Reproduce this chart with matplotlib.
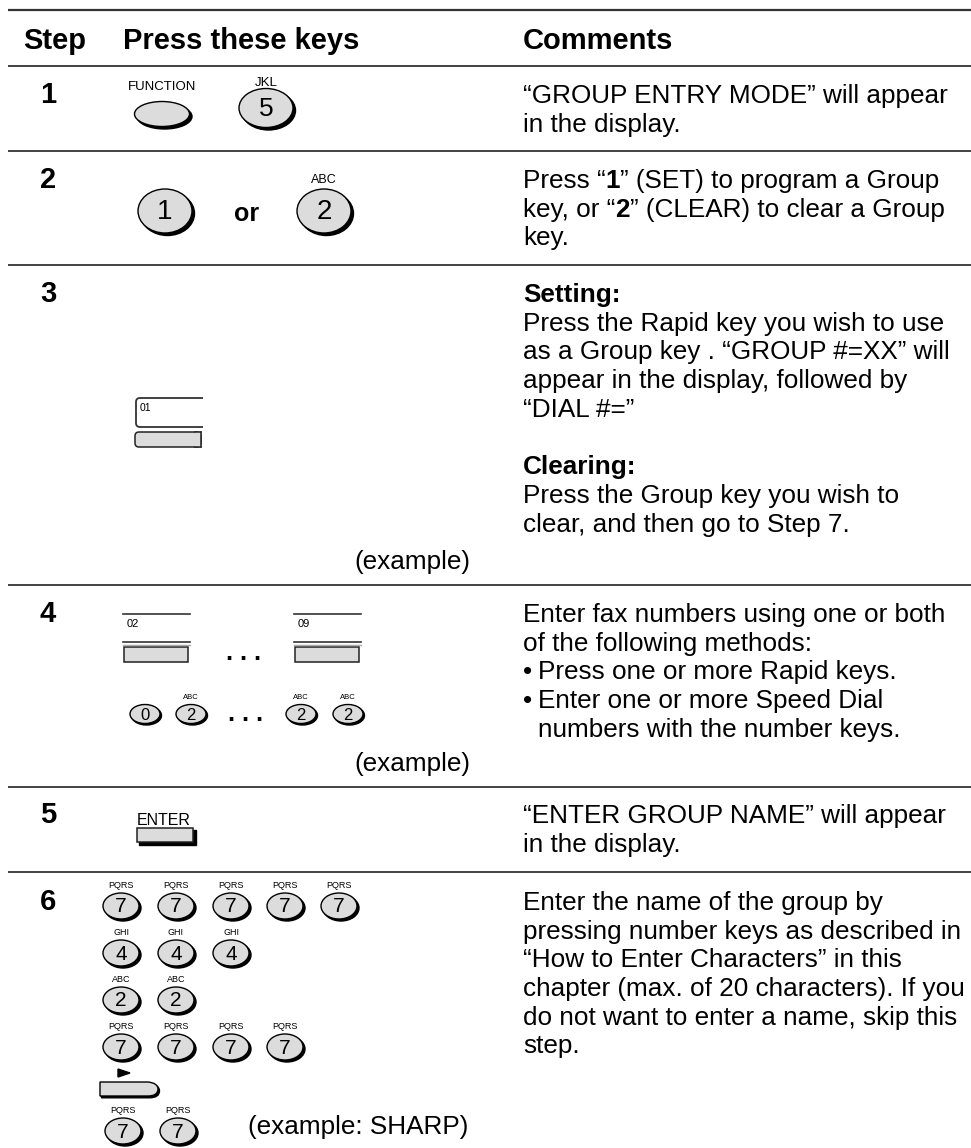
import matplotlib
matplotlib.use('Agg')
import matplotlib.pyplot as plt
from matplotlib.patches import Ellipse, Rectangle, FancyBboxPatch, Polygon, PathPatch
from matplotlib.path import Path

plt.rcParams['font.family'] = ['Liberation Sans', 'DejaVu Sans']

# ---- content ----
headers = ['Step', 'Press these keys', 'Comments']
step_numbers = ['1', '2', '3', '4', '5', '6']

# each comment line is a list of (text, weight) runs; None = blank line
comments = [
    [[('“GROUP ENTRY MODE” will appear', 'normal')],
     [('in the display.', 'normal')]],
    [[('Press “', 'normal'), ('1', 'bold'), ('” (SET) to program a Group', 'normal')],
     [('key, or “', 'normal'), ('2', 'bold'), ('” (CLEAR) to clear a Group', 'normal')],
     [('key.', 'normal')]],
    [[('Setting:', 'bold')],
     [('Press the Rapid key you wish to use', 'normal')],
     [('as a Group key . “GROUP #=XX” will', 'normal')],
     [('appear in the display, followed by', 'normal')],
     [('“DIAL #=”', 'normal')],
     None,
     [('Clearing:', 'bold')],
     [('Press the Group key you wish to', 'normal')],
     [('clear, and then go to Step 7.', 'normal')]],
    [[('Enter fax numbers using one or both', 'normal')],
     [('of the following methods:', 'normal')],
     [('•', 'bullet'), ('Press one or more Rapid keys.', 'normal')],
     [('•', 'bullet'), ('Enter one or more Speed Dial', 'normal')],
     [('', 'bullet'), ('numbers with the number keys.', 'normal')]],
    [[('“ENTER GROUP NAME” will appear', 'normal')],
     [('in the display.', 'normal')]],
    [[('Enter the name of the group by', 'normal')],
     [('pressing number keys as described in', 'normal')],
     [('“How to Enter Characters” in this', 'normal')],
     [('chapter (max. of 20 characters). If you', 'normal')],
     [('do not want to enter a name, skip this', 'normal')],
     [('step.', 'normal')]],
]

step1_keys = [('FUNCTION', ''), ('JKL', '5')]
step2_keys = [('', '1'), ('ABC', '2')]
step3_rapid = '01'
step4_rapid = ['02', '09']
step4_digits = [('', '0'), ('ABC', '2'), ('ABC', '2'), ('ABC', '2')]
step5_key = 'ENTER'
step6_rows = [
    [('PQRS', '7')] * 5,
    [('GHI', '4')] * 3,
    [('ABC', '2')] * 2,
    [('PQRS', '7')] * 4,
]
step6_last = [('PQRS', '7')] * 2
example_notes = ['(example)', '(example)', '(example: SHARP)']

# ---- layout (pixels) ----
W, H = 971, 1148
row_lines = [10, 66, 151, 265, 585, 787, 872]
first_baselines = [103, 188, 302, 622, 823, 910]
line_step = 28.7
comment_x = 523
body_size = 18.8
key_grey = '#dcdcdc'

fig = plt.figure(figsize=(W / 100, H / 100), dpi=100)
ax = fig.add_axes([0, 0, 1, 1])
ax.set_xlim(0, W)
ax.set_ylim(H, 0)
ax.axis('off')
renderer = fig.canvas.get_renderer()

for i, y in enumerate(row_lines):
    ax.plot([8, W], [y, y], color='#333333', lw=1.6 if i == 0 else 1.3,
            solid_capstyle='butt')

# header
ax.text(23, 49, headers[0], fontsize=21, fontweight='bold', va='baseline')
ax.text(123, 49, headers[1], fontsize=21, fontweight='bold', va='baseline')
ax.text(comment_x, 49, headers[2], fontsize=21, fontweight='bold', va='baseline')


def draw_runs(x, y, runs, size=body_size):
    for text, weight in runs:
        if weight == 'bullet':
            ax.text(x, y, text, fontsize=size, va='baseline')
            x += 15
            continue
        t = ax.text(x, y, text, fontsize=size, fontweight=weight, va='baseline')
        x += t.get_window_extent(renderer).width


for num, y0, lines in zip(step_numbers, first_baselines, comments):
    ax.text(48, y0, num, fontsize=21, fontweight='bold', va='baseline', ha='center')
    for k, runs in enumerate(lines):
        if runs is None:
            continue
        draw_runs(comment_x, y0 + k * line_step, runs)


def round_key(cx, cy, w, h, digit, label, dsize, lsize, off=2.0, lgap=6):
    ax.add_patch(Ellipse((cx + off, cy + off), w, h, facecolor='black',
                         edgecolor='black', lw=1))
    ax.add_patch(Ellipse((cx, cy), w, h, facecolor=key_grey,
                         edgecolor='black', lw=1))
    if digit:
        ax.text(cx, cy + 1, digit, fontsize=dsize, ha='center', va='center')
    if label:
        ax.text(cx, cy - h / 2 - lgap, label, fontsize=lsize, ha='center',
                va='baseline')


# step 1
round_key(162, 114, 55, 25, step1_keys[0][1], step1_keys[0][0], 19, 9.5, off=2.5, lgap=12)
round_key(266, 108, 54, 39, step1_keys[1][1], step1_keys[1][0], 19, 9.5, off=2.5, lgap=2.5)

# step 2
round_key(165, 211, 54, 44, step2_keys[0][1], step2_keys[0][0], 20, 9, off=2.5)
ax.text(247, 214, 'or', fontsize=18, fontweight='bold', ha='center', va='center')
round_key(324, 211, 54, 44, step2_keys[1][1], step2_keys[1][0], 20, 9, off=2.5, lgap=6)


def rapid_top(x0, x1, y_top, y_bot, r=4):
    verts = [(x1, y_top), (x0 + r, y_top), (x0, y_top), (x0, y_top + r),
             (x0, y_bot - r), (x0, y_bot), (x0 + r, y_bot), (x1, y_bot)]
    codes = [Path.MOVETO, Path.LINETO, Path.CURVE3, Path.CURVE3,
             Path.LINETO, Path.CURVE3, Path.CURVE3, Path.LINETO]
    ax.add_patch(PathPatch(Path(verts, codes), facecolor='none',
                           edgecolor='#333333', lw=1.3))


def grey_bar(x0, x1, y0, y1, r=0):
    if r:
        ax.add_patch(FancyBboxPatch((x0, y0), x1 - x0, y1 - y0,
                                    boxstyle='round,pad=0,rounding_size=%g' % r,
                                    facecolor=key_grey, edgecolor='#222222', lw=1.1))
    else:
        ax.add_patch(Rectangle((x0, y0), x1 - x0, y1 - y0, facecolor=key_grey,
                               edgecolor='#222222', lw=1.1))


# step 3
rapid_top(136, 203, 398, 427)
ax.text(140, 403, step3_rapid, fontsize=7.5, va='top')
grey_bar(135, 201, 432, 447, r=4)
ax.add_patch(Rectangle((195, 432), 6, 15, facecolor=key_grey, edgecolor='none'))
ax.plot([201, 201], [432, 447], color='#222222', lw=1.1)
ax.plot([195, 201], [432, 432], color='#222222', lw=1.1)
ax.plot([195, 201], [447, 447], color='#222222', lw=1.1)
ax.text(470, 562, example_notes[0], fontsize=body_size, ha='right', va='center')

# step 4
for x0, lab in zip([123, 294], step4_rapid):
    ax.plot([x0, x0 + 67], [614, 614], color='#333333', lw=1.2)
    ax.text(x0 + 4, 619, lab, fontsize=8, va='top')
    ax.plot([x0, x0 + 67], [642, 642], color='#333333', lw=1.2)
    ax.plot([x0, x0 + 67], [644.5, 644.5], color='#aaaaaa', lw=1)
    grey_bar(x0 + 1, x0 + 65, 647, 662)
ax.text(244, 660, '. . .', fontsize=18, fontweight='bold', ha='center', va='baseline')
for cx, (lab, dig) in zip([145, 191, 301, 348], step4_digits):
    round_key(cx, 714, 30, 19, dig, lab, 12, 5.5, off=1.5, lgap=5.5)
ax.text(246, 721, '. . .', fontsize=18, fontweight='bold', ha='center', va='baseline')
ax.text(470, 764, example_notes[1], fontsize=body_size, ha='right', va='center')

# step 5
ax.text(137, 825, step5_key, fontsize=11.5, va='baseline')
ax.add_patch(Rectangle((139, 830), 57, 15, facecolor='black', edgecolor='black'))
ax.add_patch(Rectangle((137, 828), 56, 14, facecolor=key_grey, edgecolor='#222222', lw=1.1))

# step 6
row_y = [906, 953, 1000, 1047]
col_x = [121, 176, 231, 285, 339]
for ry, row in zip(row_y, step6_rows):
    for cx, (lab, dig) in zip(col_x, row):
        round_key(cx, ry, 36, 26, dig, lab, 15, 6.5, off=2.0, lgap=5)

# arrow key
ax.add_patch(Polygon([[118, 1069], [118, 1077], [130, 1073]], closed=True,
                     facecolor='black', edgecolor='black'))
pill = [(100, 1082), (148, 1082), (158, 1083), (158, 1089), (158, 1096),
        (148, 1096), (100, 1096), (100, 1082)]
pcodes = [Path.MOVETO, Path.LINETO, Path.CURVE3, Path.CURVE3, Path.CURVE3,
          Path.CURVE3, Path.LINETO, Path.CLOSEPOLY]
shadow = [(x + 1.5, y + 1.8) for x, y in pill]
ax.add_patch(PathPatch(Path(shadow, pcodes), facecolor='black', edgecolor='black', lw=1))
ax.add_patch(PathPatch(Path(pill, pcodes), facecolor=key_grey, edgecolor='black', lw=1))

for cx, (lab, dig) in zip([123, 178], step6_last):
    round_key(cx, 1131, 36, 26, dig, lab, 15, 6.5, off=2.0, lgap=5)
ax.text(468, 1127, example_notes[2], fontsize=body_size, ha='right', va='center')

fig.savefig('out.png', dpi=100)
